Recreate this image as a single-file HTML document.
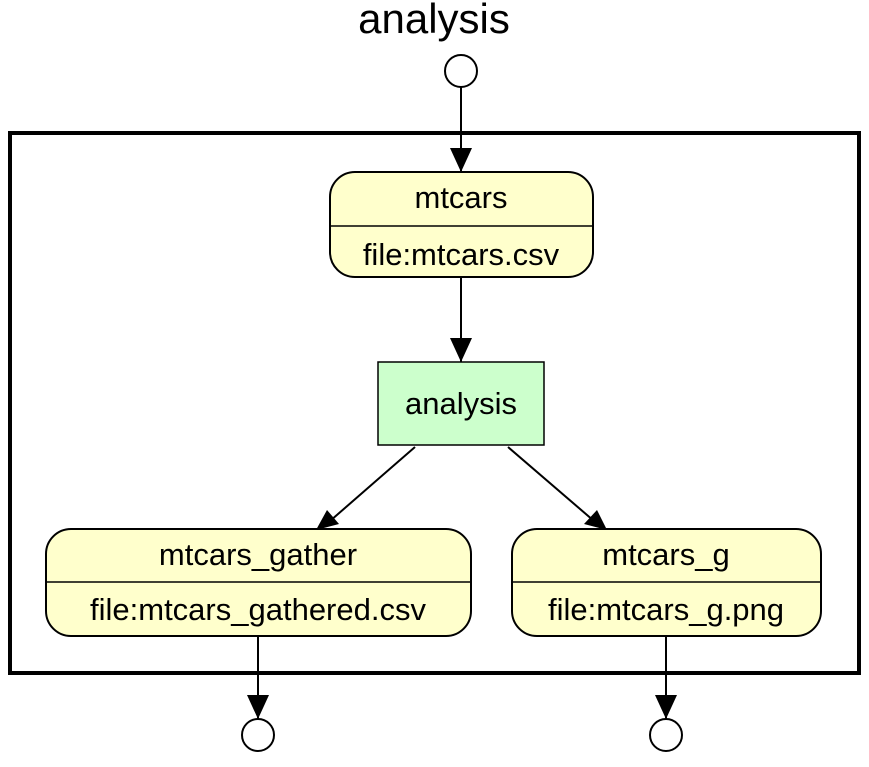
<!DOCTYPE html>
<html><head><style>body{margin:0;background:#fff}</style></head><body>
<svg width="869" height="762" viewBox="0 0 869 762" xmlns="http://www.w3.org/2000/svg" font-family="Liberation Sans, sans-serif">
<text x="434" y="33" font-size="42" text-anchor="middle">analysis</text>
<rect x="10" y="133" width="849" height="540" fill="none" stroke="#000" stroke-width="4"/>
<circle cx="461" cy="71" r="16" fill="#fff" stroke="#000" stroke-width="2"/>
<line x1="461" y1="87" x2="461" y2="172" stroke="#000" stroke-width="2"/>
<path d="M450,148 L472,148 L461,172z"/>
<rect x="330" y="172" width="263" height="105" rx="25" fill="#ffffcc" stroke="#000" stroke-width="2"/>
<line x1="330" y1="226" x2="593" y2="226" stroke="#000" stroke-width="1.5"/>
<text x="461" y="208" font-size="31" text-anchor="middle">mtcars</text>
<text x="461" y="265" font-size="31" text-anchor="middle">file:mtcars.csv</text>
<line x1="461" y1="277" x2="461" y2="362" stroke="#000" stroke-width="2"/>
<path d="M450,338 L472,338 L461,362z"/>
<rect x="378" y="362" width="166" height="83" fill="#ccffcc" stroke="#000" stroke-width="1.5"/>
<text x="461" y="414" font-size="31" text-anchor="middle">analysis</text>
<line x1="415" y1="447" x2="330" y2="521" stroke="#000" stroke-width="2"/>
<path d="M316,530 L327,510 L339,524z"/>
<line x1="508" y1="447" x2="594" y2="521" stroke="#000" stroke-width="2"/>
<path d="M607,530 L584,524 L597,510z"/>
<rect x="46" y="529" width="425" height="107" rx="25" fill="#ffffcc" stroke="#000" stroke-width="2"/>
<line x1="46" y1="582" x2="471" y2="582" stroke="#000" stroke-width="1.5"/>
<text x="258" y="565" font-size="31" text-anchor="middle">mtcars_gather</text>
<text x="258" y="620" font-size="31" text-anchor="middle">file:mtcars_gathered.csv</text>
<rect x="512" y="529" width="309" height="107" rx="25" fill="#ffffcc" stroke="#000" stroke-width="2"/>
<line x1="512" y1="582" x2="821" y2="582" stroke="#000" stroke-width="1.5"/>
<text x="666" y="565" font-size="31" text-anchor="middle">mtcars_g</text>
<text x="666" y="620" font-size="31" text-anchor="middle">file:mtcars_g.png</text>
<line x1="258" y1="636" x2="258" y2="719" stroke="#000" stroke-width="2"/>
<path d="M247,695 L269,695 L258,719z"/>
<circle cx="258" cy="735" r="16" fill="#fff" stroke="#000" stroke-width="2"/>
<line x1="666" y1="636" x2="666" y2="719" stroke="#000" stroke-width="2"/>
<path d="M655,695 L677,695 L666,719z"/>
<circle cx="666" cy="735" r="16" fill="#fff" stroke="#000" stroke-width="2"/>
</svg>
</body></html>
